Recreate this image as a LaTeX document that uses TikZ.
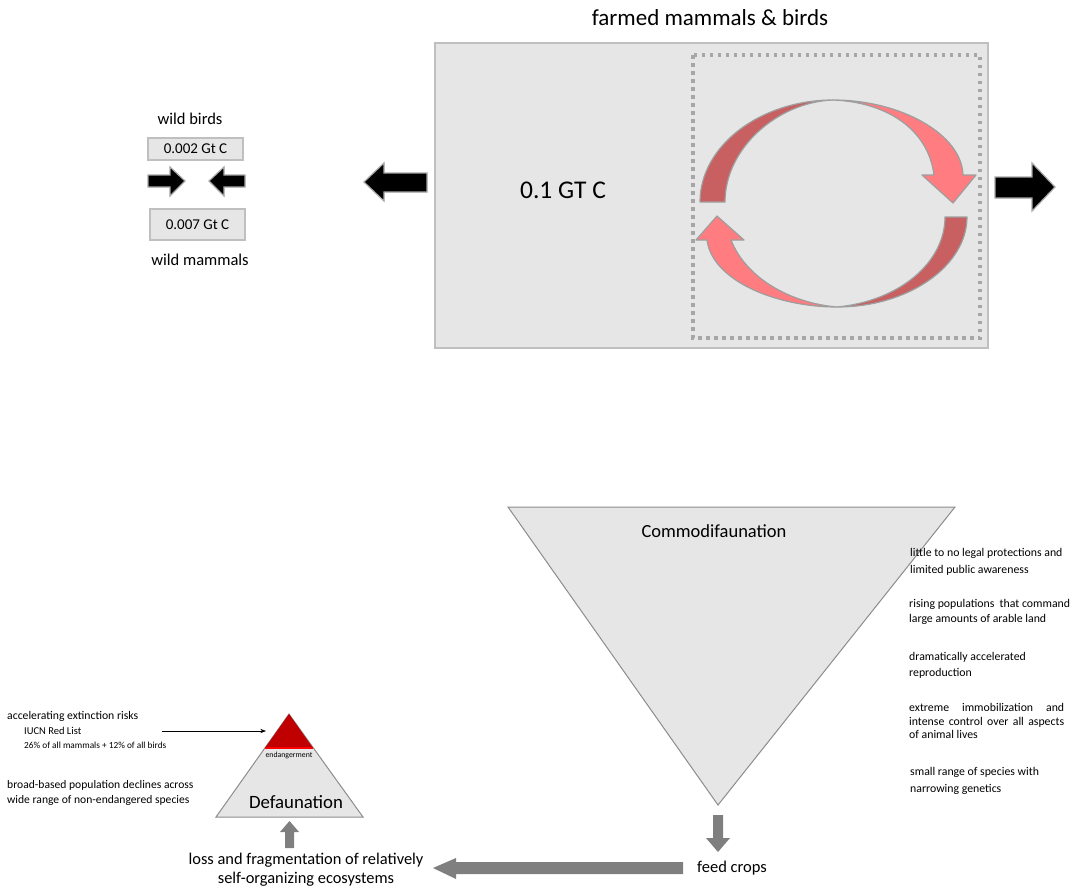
\documentclass[tikz,border=0pt]{standalone}
\usepackage{fontspec}
\setmainfont{Carlito}
\usetikzlibrary{arrows.meta,positioning,calc}
\definecolor{boxfill}{HTML}{E6E6E6}
\definecolor{boxline}{HTML}{BFBFBF}
\definecolor{dotline}{HTML}{A6A6A6}
\definecolor{loopdark}{HTML}{C86062}
\definecolor{looplight}{HTML}{FF7C80}
\definecolor{arrowgray}{HTML}{7F7F7F}
\definecolor{endred}{HTML}{C00000}
\newcommand{\fsz}[1]{\fontsize{#1}{#1}\selectfont}
\tikzset{
  lbl/.style={inner sep=0pt},
  valbox/.style={draw=boxline,fill=boxfill,line width=2pt},
  blockarrow/.style={fill=black,draw=black!35,line width=1.2pt,line join=miter},
  grayarrow/.style={fill=arrowgray},
  loop/.style={draw=black!38,line width=1.2pt,line join=round},
  note/.style={lbl,anchor=west,font=\fsz{11.8},align=left},
}

\begin{document}
\begin{tikzpicture}[x=1pt,y=-1pt,>=Stealth]
\useasboundingbox (0,0) rectangle (1077,892);
% farmed mammals & birds
\node[lbl,font=\fsz{23}] (farmtitle) at (710,18) {farmed mammals \& birds};
\draw[valbox] (435,43) rectangle (988,348);
\draw[dotline,line width=3.5pt,dash pattern=on 3.5pt off 4.5pt] (693,55) rectangle (980,338);
\node[lbl,font=\fsz{25.5}] (farmval) at (563,190) {0.1 GT C};
% cycle
\filldraw[loop,fill=loopdark] (725,202) -- (700,202) .. controls (700,146) and (760,100) .. (833,100)
  .. controls (778,102) and (725,148) .. (725,202) -- cycle;
\filldraw[loop,fill=looplight] (833,100) .. controls (902,100) and (962,135) .. (963,175)
  -- (976,175) -- (953,203) -- (922,175) -- (934,175) .. controls (928,128) and (885,102) .. (833,100) -- cycle;
\filldraw[loop,fill=loopdark] (945,217) -- (967,217) .. controls (967,265) and (910,307) .. (837,307)
  .. controls (900,301) and (945,262) .. (945,217) -- cycle;
\filldraw[loop,fill=looplight] (837,307) .. controls (775,307) and (712,280) .. (707,240)
  -- (696,240) -- (717,216) -- (744,240) -- (731,240) .. controls (746,278) and (790,303) .. (837,307) -- cycle;
% black arrows
\filldraw[blockarrow] (427,173) -- (384,173) -- (384,163) -- (364,182) -- (384,201) -- (384,192) -- (427,192) -- cycle;
\filldraw[blockarrow] (995,177) -- (1032,177) -- (1032,163) -- (1055,187) -- (1032,211) -- (1032,198) -- (995,198) -- cycle;
% wild
\node[lbl,font=\fsz{16.5}] (birds) at (190,119) {wild birds};
\node[valbox,minimum width=95pt,minimum height=22pt,inner sep=0pt,font=\fsz{15}] (birdval) at (195.5,149) {0.002 Gt C};
\node[valbox,minimum width=95pt,minimum height=31pt,inner sep=0pt,font=\fsz{15}] (mamval) at (197.5,224.5) {0.007 Gt C};
\node[lbl,font=\fsz{16.5}] (mammals) at (200,260) {wild mammals};
\filldraw[blockarrow] (148,175) -- (170,175) -- (170,167) -- (185,181) -- (170,196) -- (170,187) -- (148,187) -- cycle;
\filldraw[blockarrow] (245,175) -- (224,175) -- (224,167) -- (209,181) -- (224,196) -- (224,187) -- (245,187) -- cycle;
% commodifaunation
\draw[draw=black!45,fill=boxfill,line width=1pt] (508,507) -- (955,507) -- (718,805) -- cycle;
\node[lbl,font=\fsz{18.5}] (commod) at (714,531) {Commodifaunation};
\node[note] (c1) at (910,562) {little to no legal protections and\\[5pt]limited public awareness};
\node[note] (c2) at (909,612) {rising populations\ \ that command\\[4pt]large amounts of arable land};
\node[note] (c3) at (909,665) {dramatically accelerated\\[4pt]reproduction};
\node[note] (c4) at (909,721) {\makebox[155pt][s]{extreme\hfill immobilization\hfill and}\\[2pt]\makebox[155pt][s]{intense control over all aspects}\\[2pt]of animal lives};
\node[note] (c5) at (910,781) {small range of species with\\[5pt]narrowing genetics};
\fill[grayarrow] (713,815) -- (723,815) -- (723,838) -- (730,838) -- (718,852) -- (706,838) -- (713,838) -- cycle;
\node[lbl,font=\fsz{16.5}] (feed) at (732,868) {feed crops};
\fill[grayarrow] (683,862) -- (456,862) -- (456,858) -- (433,868) -- (456,879) -- (456,874) -- (683,874) -- cycle;
% defaunation
\draw[draw=black!45,fill=boxfill,line width=1pt] (289,714) -- (363,817) -- (216,817) -- cycle;
\fill[endred] (289,714) -- (313,748) -- (265,748) -- cycle;
\draw[red,line width=1.3pt] (265,748) -- (313,748);
\node[lbl,font=\fsz{7.8}] (endang) at (289,755) {endangerment};
\node[lbl,font=\fsz{18.8}] (defaun) at (296,802) {Defaunation};
\fill[grayarrow] (285,848) -- (294,848) -- (294,832) -- (299,832) -- (289.5,821) -- (280,832) -- (285,832) -- cycle;
\node[lbl,font=\fsz{16.4},align=center] (loss) at (306,870) {loss and fragmentation of relatively\\[3pt]self-organizing ecosystems};
\node[note,font=\fsz{11.7}] (risk) at (7,716) {accelerating extinction risks};
\node[note,font=\fsz{10.5}] (iucn) at (24,731) {IUCN Red List};
\node[note,font=\fsz{9.3}] (share) at (24,745) {26\% of all mammals + 12\% of all birds};
\coordinate (iucnend) at (162,731);
\draw[->,line width=.6pt] (iucnend) -- (266,731);
\node[note,font=\fsz{11.6}] (decl) at (7,793) {broad-based population declines across\\[4pt]wide range of non-endangered species};
\end{tikzpicture}
\end{document}
